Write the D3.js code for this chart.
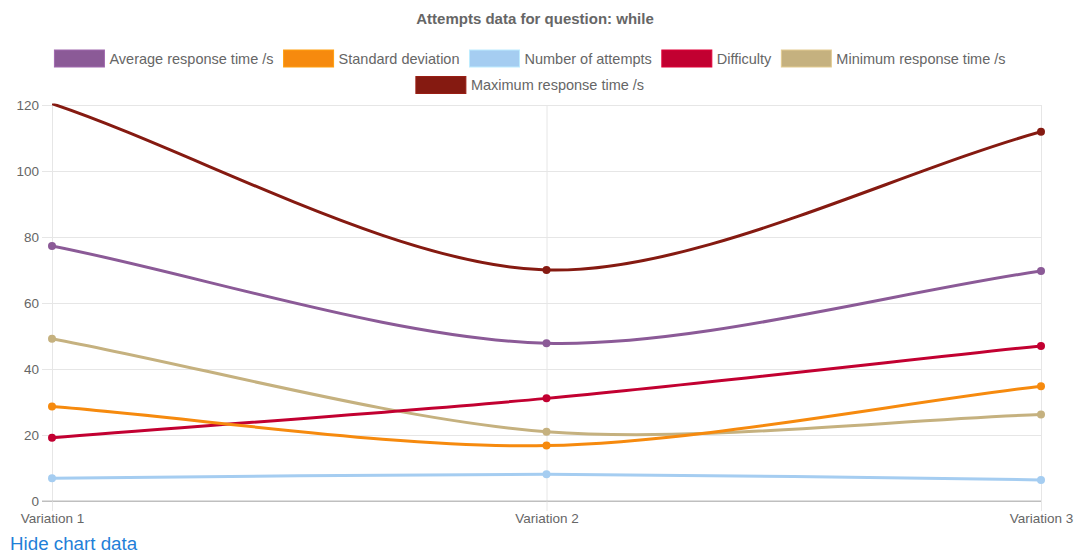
<!DOCTYPE html>
<html>
<head>
<meta charset="utf-8">
<script src="https://cdn.jsdelivr.net/npm/d3@7"></script>
<style>
  html, body { margin: 0; padding: 0; background: #fff; }
  svg { display: block; font-family: "Liberation Sans", Arial, Helvetica, sans-serif; }
  a.toggle { position: absolute; left: 10px; top: 533px; font: 18.75px "Liberation Sans", Arial, sans-serif; color: #1f80d8; text-decoration: none; }
</style>
</head>
<body>
<svg id="chart" width="1075" height="553"></svg>
<a class="toggle" href="#">Hide chart data</a>
<script>
// Question attempt statistics for each variation
const categories = ["Variation 1", "Variation 2", "Variation 3"];
const avgResponse = [77.3, 47.8, 69.7];
const stdDeviation = [28.6, 16.8, 34.8];
const attempts = [6.9, 8.1, 6.4];
const difficulty = [19.2, 31.1, 47.0];
const minResponse = [49.2, 21.0, 26.2];
const maxResponse = [120.4, 70.0, 111.9];
const yTicks = [0, 20, 40, 60, 80, 100, 120];

const seriesNames = ["Average response time /s", "Standard deviation", "Number of attempts",
                     "Difficulty", "Minimum response time /s", "Maximum response time /s"];
const seriesColors = ["#8b5a97", "#f68a0e", "#a5cdf1", "#c20031", "#c5b17f", "#851a11"];
const seriesValues = [avgResponse, stdDeviation, attempts, difficulty, minResponse, maxResponse];

const W = 1075, H = 553;
const area = { left: 52, right: 1041, top: 105, bottom: 501 };
const lineTension = 0.3;

const svg = d3.select("#chart");

const x = d3.scalePoint().domain(categories).range([area.left, area.right]);
const y = d3.scaleLinear().domain([0, 120]).range([area.bottom, area.top]);

// Title
svg.append("text")
  .attr("x", 535).attr("y", 24)
  .attr("text-anchor", "middle")
  .attr("font-size", 15).attr("font-weight", "bold")
  .attr("fill", "#666")
  .text("Attempts data for question: while");

// Legend, laid out in centered rows
const legend = svg.append("g");
const boxW = 50, boxH = 17, gapText = 5, gapItem = 10, legendCx = 530, maxRowW = 1000;
const items = seriesNames.map((name, i) => {
  const g = legend.append("g");
  g.append("rect").attr("width", boxW).attr("height", boxH)
    .attr("fill", seriesColors[i]).attr("stroke", d3.color(seriesColors[i]).brighter(0.4)).attr("stroke-width", 1);
  const t = g.append("text").attr("x", boxW + gapText).attr("y", boxH / 2 + 5)
    .attr("font-size", 14.5).attr("fill", "#666").text(name);
  return { g, w: boxW + gapText + t.node().getComputedTextLength() };
});
const rows = [[]];
let rowW = 0;
items.forEach(it => {
  const add = (rows[rows.length - 1].length ? gapItem : 0) + it.w;
  if (rowW + add > maxRowW && rows[rows.length - 1].length) { rows.push([it]); rowW = it.w; }
  else { rows[rows.length - 1].push(it); rowW += add; }
});
rows.forEach((row, r) => {
  const total = d3.sum(row, d => d.w) + gapItem * (row.length - 1);
  let cx = legendCx - total / 2;
  row.forEach(it => {
    it.g.attr("transform", `translate(${cx},${50 + r * 26.5})`);
    cx += it.w + gapItem;
  });
});

// Y axis with horizontal grid lines
const yAxis = svg.append("g")
  .attr("transform", `translate(${area.left - 10},0)`)
  .call(d3.axisLeft(y).tickValues(yTicks).tickSize(-(area.right - area.left + 10)).tickPadding(3));
yAxis.select(".domain").remove();
yAxis.selectAll(".tick line").attr("stroke", d => d === 0 ? "#bfbfbf" : "#e6e6e6");
yAxis.selectAll(".tick text").attr("font-size", 13.5).attr("fill", "#666")
  .attr("font-family", "'Liberation Sans', Arial, sans-serif");

// X axis with vertical grid lines
const xAxis = svg.append("g")
  .attr("transform", `translate(0,${area.bottom + 10})`)
  .call(d3.axisBottom(x).tickSize(-(area.bottom + 10 - area.top)).tickPadding(2.5));
xAxis.select(".domain").remove();
xAxis.selectAll(".tick line").attr("stroke", "#e6e6e6");
xAxis.selectAll(".tick text").attr("font-size", 13.5).attr("fill", "#666")
  .attr("font-family", "'Liberation Sans', Arial, sans-serif");
svg.append("line")
  .attr("x1", area.left - 10).attr("x2", area.right)
  .attr("y1", y(0)).attr("y2", y(0))
  .attr("stroke", "#bfbfbf");

// Bezier spline with tension, control points kept inside the plot area
function tensionSpline(context) {
  return {
    areaStart() {}, areaEnd() {},
    lineStart() { this.pts = []; },
    point(px, py) { this.pts.push([+px, +py]); },
    lineEnd() {
      const p = this.pts, n = p.length, t = lineTension;
      if (!n) return;
      const cap = (v, lo, hi) => Math.max(lo, Math.min(hi, v));
      const cps = p.map((cur, i) => {
        const prev = p[Math.max(0, i - 1)], next = p[Math.min(n - 1, i + 1)];
        const d01 = Math.hypot(cur[0] - prev[0], cur[1] - prev[1]);
        const d12 = Math.hypot(next[0] - cur[0], next[1] - cur[1]);
        let s01 = d01 / (d01 + d12), s12 = d12 / (d01 + d12);
        if (!isFinite(s01)) s01 = 0;
        if (!isFinite(s12)) s12 = 0;
        const fa = t * s01, fb = t * s12;
        return {
          px: cap(cur[0] - fa * (next[0] - prev[0]), area.left, area.right),
          py: cap(cur[1] - fa * (next[1] - prev[1]), area.top, area.bottom),
          nx: cap(cur[0] + fb * (next[0] - prev[0]), area.left, area.right),
          ny: cap(cur[1] + fb * (next[1] - prev[1]), area.top, area.bottom)
        };
      });
      context.moveTo(p[0][0], p[0][1]);
      for (let i = 1; i < n; i++) {
        context.bezierCurveTo(cps[i - 1].nx, cps[i - 1].ny, cps[i].px, cps[i].py, p[i][0], p[i][1]);
      }
    }
  };
}

svg.append("clipPath").attr("id", "plot-clip")
  .append("rect")
  .attr("x", area.left).attr("y", area.top - 1.5)
  .attr("width", area.right - area.left).attr("height", area.bottom - area.top + 3);

const line = d3.line()
  .x((d, i) => x(categories[i]))
  .y(d => y(d))
  .curve(tensionSpline);

const plot = svg.append("g");
// first series drawn last so it sits on top
d3.range(seriesValues.length).reverse().forEach(i => {
  const vals = seriesValues[i];
  plot.append("path")
    .attr("clip-path", "url(#plot-clip)")
    .attr("d", line(vals))
    .attr("fill", "none")
    .attr("stroke", seriesColors[i])
    .attr("stroke-width", 3);
  plot.selectAll(null)
    .data(vals.map((v, j) => ({ v, c: categories[j] })).filter(d => d.v >= 0 && d.v <= 120))
    .enter().append("circle")
    .attr("cx", d => x(d.c))
    .attr("cy", d => y(d.v))
    .attr("r", 4)
    .attr("fill", seriesColors[i]);
});
</script>
</body>
</html>
